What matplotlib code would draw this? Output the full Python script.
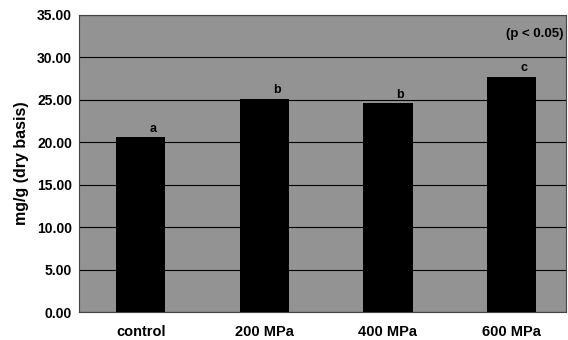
import matplotlib.pyplot as plt
import numpy as np

plt.rcParams['font.family'] = ['Liberation Sans', 'DejaVu Sans']

# data
categories = ['control', '200 MPa', '400 MPa', '600 MPa']
values = [20.6, 25.1, 24.6, 27.7]
letters = ['a', 'b', 'b', 'c']
yticks = np.arange(0, 35.01, 5)

fig = plt.figure(figsize=(5.68, 3.4), dpi=100)
ax = fig.add_axes([0.139, 0.082, 0.857, 0.874])
ax.set_facecolor('#939393')

index = np.arange(len(categories))
ax.bar(index, values, width=0.4, color='black', zorder=3)
for i, (v, l) in enumerate(zip(values, letters)):
    ax.text(i + 0.1, v + 0.3, l, ha='center', va='bottom',
            fontsize=9, fontweight='bold', color='black', zorder=4)
ax.text(3.42, 32.0, '(p < 0.05)', ha='right', va='bottom',
        fontsize=9.5, fontweight='bold', color='black')

ax.set_ylim(0, 35)
ax.set_xlim(-0.5, 3.44)
ax.set_yticks(yticks)
ax.set_yticklabels(['%.2f' % t for t in yticks], fontweight='bold', fontsize=10)
ax.set_xticks(index)
ax.set_xticklabels(categories, fontweight='bold', fontsize=10.5)
ax.tick_params(axis='both', length=0, pad=5)
ax.tick_params(axis='x', pad=9)
ax.yaxis.grid(True, color='black', linewidth=0.8, zorder=1)
ax.set_axisbelow(True)
ax.set_ylabel('mg/g (dry basis)', fontweight='bold', fontsize=11.5, labelpad=6)
for s in ax.spines.values():
    s.set_color('#444444')
    s.set_linewidth(0.8)

plt.savefig('out.png', dpi=100)
